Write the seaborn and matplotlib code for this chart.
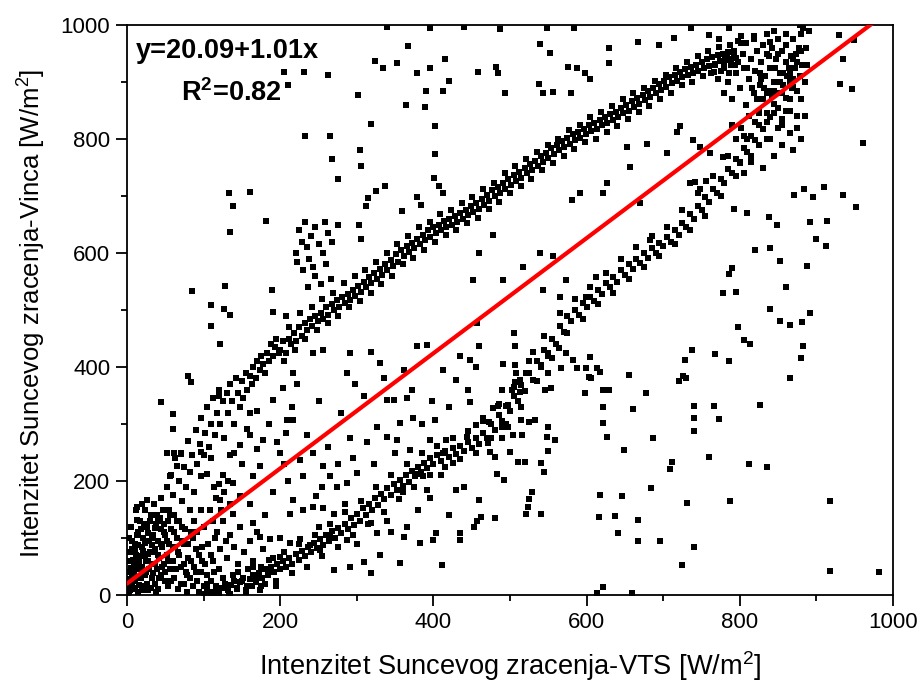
import seaborn as sns
import matplotlib.pyplot as plt
import pandas as pd

# tacke procitane sa slike (x = VTS, y = Vinca), W/m2
origin_pts = [(2,5),(3,40),(4,60),(5,20),(6,80),(7,35),(8,10),(9,55),(10,90),(11,25),(12,70),(13,45),
    (14,110),(15,5),(16,60),(17,130),(18,30),(19,85),(20,50),(21,100),(22,15),(23,70),(24,150),(25,40),
    (26,120),(27,60),(28,8),(29,95),(30,75),(31,140),(32,30),(33,55),(34,105),(35,160),(36,20),(37,80),
    (38,125),(39,45),(40,95),(41,10),(42,65),(43,135),(44,115),(45,35),(46,85),(47,150),(48,55),(49,25),
    (50,105),(52,70),(53,130),(54,15),(55,90),(56,45),(58,115),(60,60),(61,140),(62,30),(63,85),(65,100),
    (66,10),(68,70),(70,50),(72,120),(74,20),(75,90),(77,40),(78,5),(80,65),(82,30),(84,110),(86,15),
    (88,50),(90,80),(92,25),(94,5),(96,40),(98,60),(100,15),(1,0),(3,100),(5,120),(12,150),(8,75),(20,160),
    (105,5),(110,25),(112,60),(115,100),(118,10),(120,45),(122,80),(125,130),(128,20),(130,65),(133,0),
    (135,105),(138,35),(140,85),(143,10),(145,55),(148,120),(150,25),(153,75),(155,5),(158,45),(160,95),
    (163,15),(165,60),(168,30),(170,110),(173,8),(175,50),(178,80),(180,20),(185,40),(190,65),(195,15),(200,100)]

origin_dense = [(1,15),(2,28),(3,75),(4,8),(5,48),(6,95),(7,22),(8,62),(9,38),(10,12),(11,80),(12,30),
    (13,105),(14,52),(15,88),(16,18),(17,68),(18,115),(19,42),(20,8),(21,78),(22,125),(23,35),(24,92),
    (25,60),(26,20),(27,108),(28,72),(29,45),(30,130),(31,12),(32,88),(33,100),(34,38),(35,75),(36,118),
    (37,55),(38,5),(39,140),(40,70),(42,30),(44,90),(46,50),(48,125),(50,40),(52,95),(54,60),(56,140),
    (58,25),(60,85),(62,110),(64,45),(66,75),(68,130),(70,20),(72,95),(74,55),(76,115),(78,35),(80,90),
    (82,150),(84,60),(86,100),(88,130),(90,40),(92,110),(94,70),(96,150),(98,85),(100,120),(102,55),
    (104,35),(106,90),(108,150),(110,70),(112,130),(114,40),(116,170),(118,110),(120,195),(123,150),
    (126,180),(129,95),(132,200),(135,160)]

upper_band = [(40,130),(45,170),(48,110),(52,190),(55,150),(58,210),(60,175),(63,240),(65,130),(68,200),
    (70,250),(72,165),(75,225),(77,190),(80,270),(82,215),(85,245),(87,180),(90,290),(92,230),(95,265),
    (97,310),(100,245),(102,285),(105,330),(107,260),(110,300),(112,345),(115,280),(117,320),(120,360),
    (122,300),(125,340),(127,275),(130,355),(132,320),(135,370),(137,340),(140,300),(142,380),(145,355),
    (147,330),(150,375),(152,345),(155,390),(157,360),(160,385),(163,370),(165,400),(168,380),(170,410),
    (173,395),(175,420),(178,405),(180,390),(183,425),(185,410),(188,440),(190,420),(193,435),(195,450),
    (198,425),(200,430),(204,445),(207,425),(211,450),(214,440),(218,460),(221,445),(225,470),(228,455),
    (232,478),(235,465),(239,485),(242,472),(246,490),(249,480),(253,495),(256,485),(260,505),(263,492),
    (267,510),(270,500),(274,518),(277,505),(281,522),(284,512),(288,528),(291,518),(295,535),(298,525),
    (302,542),(305,532),(309,550),(312,540),(316,558),(319,548),(323,565),(326,555),(330,572),(333,562),
    (337,580),(340,570),(344,588),(347,578),(351,598),(354,585),(358,605),(361,595),(365,612),(368,602),
    (372,618),(375,608),(379,625),(382,615),(386,632),(389,622),(393,640),(396,628),(400,645),(403,635),
    (407,650),(410,640),(414,656),(417,646),(421,660),(424,650),(428,665),(431,655),(435,670),(438,660),
    (442,676),(445,666),(449,682),(452,672),(456,688),(459,678),(463,695),(466,685),(470,702),(473,692),
    (477,710),(480,700),(484,716),(487,706),(491,722),(494,712),(498,730),(501,720),(505,736),(508,726),
    (512,742),(515,732),(519,750),(522,740),(526,756),(529,746),(533,762),(536,752),(540,770),(543,760),
    (547,776),(550,766),(554,784),(557,774),(561,790),(564,780),(568,796),(571,786),(575,802),(578,792),
    (582,808),(585,798),(589,812),(592,802),(596,818),(599,808),(603,824),(606,814),(610,828),(613,818),
    (617,834),(620,824),(624,838),(627,828),(631,844),(634,834),(638,848),(641,838),(645,855),(648,845),
    (652,860),(655,850),(659,866),(662,856),(666,872),(669,862),(673,878),(676,868),(680,884),(683,874),
    (687,890),(690,880),(694,896),(697,886),(701,902),(704,892),(708,908),(711,898),(715,912),(718,902),
    (722,918),(725,908),(729,922),(732,912),(736,926),(739,916),(743,930),(746,920),(750,935),(753,925),
    (757,940),(760,928),(764,944),(767,932),(771,948),(774,936),(778,950),(781,938),(785,952),(788,940),
    (792,955),(795,942)]

upper_spread = [(205,410),(212,470),(219,430),(226,495),(233,450),(241,505),(248,465),(255,520),(262,478),
    (269,530),(276,490),(283,548),(290,505),(297,560),(304,515),(311,570),(318,530),(325,585),(332,545),
    (339,600),(346,560),(353,615),(360,580),(367,630),(374,592),(381,645),(388,605),(395,655),(402,620),
    (409,668),(416,632),(423,675),(430,640),(437,688),(444,652),(451,698),(458,662),(465,712),(472,678),
    (479,722),(486,690),(493,740),(500,705),(507,752),(514,718),(521,765),(528,730),(535,778),(542,745),
    (549,790),(556,758),(563,800),(570,770),(577,815),(584,782),(591,825),(598,795),(605,838),(612,800),
    (619,848),(626,812),(633,858),(640,822),(647,870),(654,835),(661,880),(668,848),(675,890),(682,858),
    (689,902),(696,870),(703,912),(710,880),(717,925),(724,895),(731,935),(738,900),(745,945),(752,910),
    (759,955),(766,918),(773,962),(780,925),(787,965),(794,930),(801,968)]

lower_band = [(100,2),(104,10),(108,0),(112,6),(116,15),(120,4),(124,12),(128,20),(132,8),(136,18),(140,25),
    (144,12),(148,22),(152,30),(156,15),(160,28),(164,35),(168,22),(172,38),(176,30),(180,45),(184,35),
    (188,50),(192,40),(196,55),(200,45),(204,60),(208,50),(212,65),(216,55),(220,72),(224,62),(228,78),
    (232,68),(236,85),(240,75),(244,92),(248,82),(252,98),(256,88),(260,105),(264,95),(268,112),(272,100),
    (276,118),(280,108),(284,125),(288,115),(292,135),(296,122),(300,142),(304,130),(308,152),(312,140),
    (316,160),(320,150),(324,170),(328,158),(332,178),(336,168),(340,188),(344,175),(348,195),(352,185),
    (356,202),(360,192),(364,210),(368,198),(372,218),(376,208),(380,225),(384,215),(388,232),(392,222),
    (396,240),(400,230),(405,245),(410,235),(415,252),(420,242),(425,258),(430,248),(435,262),(440,252),
    (445,268),(450,258),(455,275),(460,265),(465,285),(470,275),(475,300),(480,290),(485,315),(490,305),
    (495,332),(500,322),(505,350),(510,340),(515,368),(520,358),(525,390),(530,378),(535,410),(540,400),
    (545,430),(550,420),(555,450),(560,440),(565,472),(570,462),(575,490),(580,480),(585,500),(590,492),
    (595,512),(600,505),(605,522),(610,515),(615,535),(620,528),(625,548),(630,540),(635,558),(640,550),
    (645,570),(650,562),(655,580),(660,572),(665,590),(670,582),(675,600),(680,592),(685,608),(690,600),
    (695,618),(700,612),(705,628),(710,620),(715,640),(720,632),(725,652),(730,645),(735,668),(740,660),
    (745,682),(750,675),(755,698),(760,690),(765,712),(770,705),(775,730),(780,722),(785,748),(790,740),
    (795,765),(800,758),(805,785),(810,778),(815,805),(820,798),(825,825),(830,818),(835,845),(840,838),
    (845,862),(850,855),(855,880),(860,872),(865,900),(870,892),(875,935),(880,955)]

lower_spread = [(105,20),(115,0),(125,30),(135,2),(145,40),(155,8),(165,50),(175,15),(185,62),(195,25),
    (205,75),(215,38),(225,90),(235,50),(245,105),(255,68),(265,125),(275,85),(285,145),(295,105),
    (305,165),(315,125),(325,190),(335,145),(345,210),(355,168),(365,230),(375,190),(385,250),(395,210),
    (405,262),(415,225),(425,275),(435,238),(445,288),(455,250),(465,305),(475,275),(485,335),(495,300),
    (505,365),(515,330),(525,410),(535,375),(545,455),(555,415),(565,495),(575,460),(585,520),(595,485),
    (605,540),(615,510),(625,565),(635,530),(645,590),(655,555),(665,610),(675,575),(685,630),(695,595),
    (705,645),(715,615),(725,675),(735,640),(745,705),(755,665),(765,735),(775,700),(785,770),(795,735),
    (805,805),(815,770),(825,845),(835,800),(845,885),(855,835),(865,915)]

top_cluster = [(780,880),(785,900),(790,870),(795,915),(800,890),(805,925),(808,860),(812,905),(815,940),
    (818,880),(820,920),(823,955),(826,895),(828,935),(830,870),(833,910),(835,950),(838,885),(840,925),
    (842,960),(845,900),(847,940),(850,880),(852,915),(855,955),(857,895),(860,935),(862,910),(865,870),
    (867,945),(870,905),(872,925),(875,885),(877,960),(880,985),(883,995),(870,975),(860,965),(850,975),
    (840,970),(830,965),(825,850),(835,830),(845,845),(855,825),(865,850),(875,840),(880,870),(885,900),
    (888,930),(886,960),(890,990),(878,1000),(812,840),(802,820),(795,800),(790,825),(818,975),(808,968),
    (798,972),(788,930),(783,945),(776,920),(772,905),(768,930),(763,915),
    (800,760),(805,740),(810,800),(815,760),(820,830),(825,790),(830,750),(835,880),(840,800),(845,770),
    (850,820),(855,790),(860,850),(865,810),(870,780),(875,820),(880,800),(885,840),(870,940),(860,985),
    (850,950),(845,990),(835,985),(828,905),(822,870),(816,890),(810,925),(804,950),(798,935),(792,950),
    (786,915),(780,935),(856,915),(864,925),(873,950),(881,930),(846,925),(838,945),(832,890),(826,915),
    (852,900),(842,875),(868,890),(878,910)]

bump_pts = [(220,600),(225,640),(228,620),(232,655),(235,610),(238,590),(240,630),(243,575),(246,560),
    (250,615),(253,545),(256,600),(260,580),(263,635),(266,555),(230,570),(222,585),(245,645),(258,655),
    (268,620),(236,540)]

scatter_pts = [(205,918),(231,918),(210,894),(263,912),(233,806),(265,806),(267,765),(275,730),(302,878),
    (304,780),(306,753),(318,827),(324,937),(334,925),(352,934),(367,964),(378,915),(390,885),(396,925),
    (415,940),(413,885),(421,901),(402,823),(402,774),(364,860),(389,857),(401,732),(407,718),(412,706),
    (325,709),(337,718),(314,696),(312,683),(359,674),(378,699),(384,685),(303,649),(305,625),(276,649),
    (133,705),(138,683),(135,637),(161,707),(182,657),(85,534),(110,509),(110,472),(121,440),(128,542),
    (135,492),(127,502),(189,535),(190,497),(208,489),
    (539,967),(552,951),(458,917),(482,927),(484,916),(538,896),(493,880),(543,880),(556,882),(580,880),
    (576,927),(588,925),(598,915),(605,905),(629,959),(629,934),(667,971),(695,965),(714,977),(760,982),
    (773,975),(802,980),(818,980),(548,995),(584,995),(736,995),(786,995),(930,983),(949,973),(935,940),
    (931,896),(947,887),(961,793),(952,681),(935,701),(914,657),(913,613),(900,624),(910,715),(896,699),
    (884,712),(871,701),(892,655),(888,578),(891,494),(881,479),(866,474),(852,480),(852,586),(839,501),
    (860,541),(840,609),(820,606),(838,663),(848,650),(809,670),(792,678),(798,470),(813,440),(806,447),
    (778,529),(795,532),(786,563),(790,574),(756,727),(742,725),(748,712),
    (452,553),(460,600),(478,632),(491,553),(517,576),(539,600),(556,594),(573,553),(612,558),(457,477),
    (505,460),(543,535),(565,523),(599,523),(670,687),(683,623),(722,822),(739,798),(748,786),(718,812),
    (705,775),(735,722),(761,775),(778,769),(679,792),(627,722),(653,786),(657,751),(622,705),(592,705),
    (581,693),(395,995),(440,997),(487,993),(340,997),
    (918,165),(918,43),(982,40),(882,437),(880,415),(865,381),(827,333),(812,230),(836,225),(787,165),
    (786,410),(768,423),(773,309),(766,332),(760,242),(740,332),(740,310),(740,287),(731,162),(740,84),
    (724,53),(720,376),(726,385),(730,380),(729,413),(737,430),(709,221),(712,233),(696,95),(687,275),
    (684,188),(677,354),(667,95),(667,131),(660,326),(655,386),(649,254),(646,174),(641,109),(637,139),
    (629,360),(622,360),(627,277),(622,302),(622,330),(617,176),(616,136),(622,14),(614,4),(659,3),
    (598,354),(606,380),(605,417),(617,391),(529,181),(521,143),(523,155),(525,168),(541,143),(481,135),
    (460,166),(453,120),(457,130),(462,137),(435,109),(435,96),(483,212),(492,201),(544,215),(541,231),
    (550,253),(520,234),
    (448,412),(460,436),(491,406),(506,436),(530,427),(541,404),(550,389),(506,404),(508,389),(513,377),
    (521,389),(546,360),(553,363),(506,374),(489,360),(502,360),(513,357),(484,331),(478,328),(497,334),
    (448,339),(473,304),(456,298),(465,310),(444,278),(489,295),(498,295),(504,280),(516,280),(514,307),
    (525,304),(532,307),(550,295),(548,278),(559,272),(471,266),(489,275),(500,251),(511,234),(474,251),
    (481,242),(550,424),(564,433),(573,424),(582,412),(587,398),(599,398),(603,383),(614,399),(567,398)]

middle_pts = [(209,307),(217,307),(170,257),(196,269),(174,226),(165,208),(178,272),(208,284),(226,237),
    (230,208),(256,226),(265,208),(274,190),(243,249),(247,173),(256,152),(287,196),(291,275),(300,214),
    (313,269),(326,295),(339,278),(339,342),(348,342),(356,301),(365,345),(374,310),(352,272),(370,254),
    (378,213),(387,208),(391,184),(396,272),(402,307),(413,249),(417,272),(426,231),(430,184),(400,97),
    (404,108),(411,53),(383,91),(356,56),(365,120),(362,102),(326,108),(339,129),(318,38),(309,58),
    (291,50),(270,44),(287,96),(265,102),(252,79),(239,87),(226,99),(213,91),(200,67),(187,99),(174,102),
    (165,126),(139,143),(122,166),(113,190),(104,213),(96,208),(139,196),(148,173),(213,143),(217,166),
    (243,155),(270,143),(318,126),(361,395),(378,436),(391,439),(430,377),(413,395),(330,407),(318,427),
    (291,424),(287,389),(298,371),(256,430),(243,424),(217,389),(222,371),(204,363),(170,322),(191,342),
    (157,292),(148,263),(135,246),(96,251),(79,385),(84,374),(45,339),(60,318),(60,292),(52,249),(62,249),
    (71,247),(56,208),(65,226),(26,166),(13,155),(13,131),
    (150,230),(160,320),(185,300),(200,250),(215,330),(235,280),(250,340),(262,260),(280,320),(295,240),
    (310,350),(322,230),(335,380),(350,250),(360,180),(372,360),(385,300),(398,340),(410,210),(420,330),
    (435,420),(445,360),(455,400),(285,160),(275,230),(255,190),(230,150),(210,200),(190,180),(180,140),
    (160,160),(345,110),(330,70),(380,150),(395,170),(420,140),(440,190),(300,90),(250,120),(140,250),
    (125,210),(110,240),(160,280),(205,230),(120,350)]

# regresija prikazana na slici
intercept = 20.09
slope = 1.01

groups = [origin_pts, origin_dense, upper_band, upper_spread, lower_band, lower_spread,
          top_cluster, bump_pts, scatter_pts, middle_pts]
allPts = [p for g in groups for p in g]
df = pd.DataFrame(allPts, columns=["VTS", "Vinca"])

sns.set_style("ticks")
plt.rcParams['font.family'] = ['Liberation Sans', 'DejaVu Sans']
plt.rcParams['mathtext.fontset'] = 'custom'
plt.rcParams['mathtext.rm'] = 'Liberation Sans'
plt.rcParams['mathtext.bf'] = 'Liberation Sans:bold'
plt.rcParams['text.color'] = 'black'
plt.rcParams['axes.labelcolor'] = 'black'
plt.rcParams['xtick.color'] = 'black'
plt.rcParams['ytick.color'] = 'black'

fig = plt.figure(figsize=(9.21, 6.89), dpi=100)
ax = fig.add_axes([0.1379, 0.1364, 0.8317, 0.8273])

sns.scatterplot(data=df, x="VTS", y="Vinca", marker="s", color="black", s=15,
                linewidth=0, ax=ax, zorder=2)

lineX = [0, 1000]
lineY = [intercept + slope * v for v in lineX]
ax.plot(lineX, lineY, color="#ff0000", lw=3, zorder=3)

ax.set_xlim(0, 1000)
ax.set_ylim(0, 1000)
ax.set_xticks(range(0, 1001, 200))
ax.set_yticks(range(0, 1001, 200))
ax.set_xticks(range(100, 1000, 200), minor=True)
ax.set_yticks(range(100, 1000, 200), minor=True)
ax.tick_params(which="major", direction="out", length=8, width=1.3, labelsize=16, pad=4,
               top=False, right=False, colors="black")
ax.tick_params(which="minor", direction="out", length=4, width=1.3, top=False, right=False)
for sp in ax.spines.values():
    sp.set_linewidth(1.3)
    sp.set_color("black")
    sp.set_visible(True)

ax.set_xlabel("Intenzitet Suncevog zracenja-VTS [W/m$^2$]", fontsize=19.6, labelpad=12, color="black")
ax.set_ylabel("Intenzitet Suncevog zracenja-Vinca [W/m$^2$]", fontsize=18.5, color="black")
ax.yaxis.set_label_coords(-0.104, 0.495)

ax.text(0.012, 0.978, "y=20.09+1.01x", transform=ax.transAxes, fontsize=19.5,
        fontweight="bold", va="top", ha="left", color="black")
ax.text(0.07, 0.905, r"R$^\mathbf{2}$=0.82", transform=ax.transAxes, fontsize=19.5,
        fontweight="bold", va="top", ha="left", color="black")

fig.savefig("out.png", dpi=100)
